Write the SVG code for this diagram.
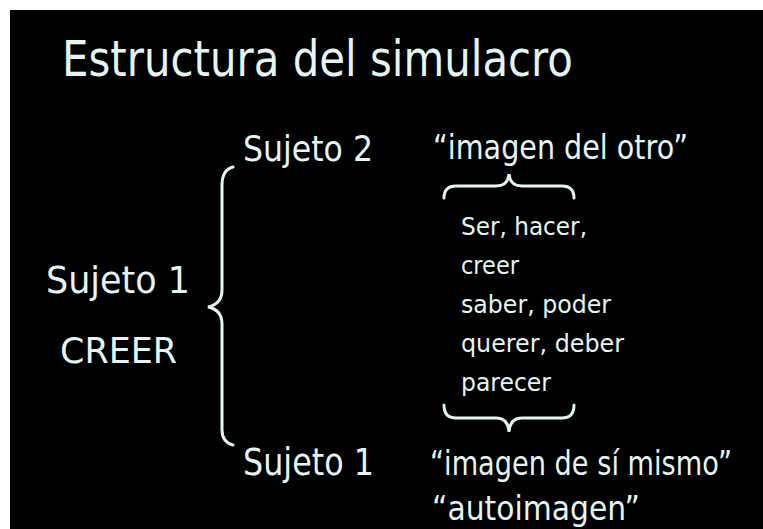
<svg xmlns="http://www.w3.org/2000/svg" width="763" height="529" viewBox="0 0 763 529">
<style>
text{font-family:"DejaVu Sans","Liberation Sans",sans-serif;fill:#e4f6f4}
.br{fill:none;stroke:#e4f6f4;stroke-width:3;stroke-linecap:round}
</style>
<rect width="763" height="529" fill="#ffffff"/>
<rect x="10" y="10" width="753" height="519" fill="#000000"/>
<g id="title"><text x="62" y="76" font-size="49" textLength="511" lengthAdjust="spacingAndGlyphs">Estructura del simulacro</text></g>
<g id="sujeto1-left">
<text x="46" y="293" font-size="38" textLength="144" lengthAdjust="spacingAndGlyphs">Sujeto 1</text>
<text x="60" y="363" font-size="36" textLength="117" lengthAdjust="spacingAndGlyphs">CREER</text>
</g>
<g id="sujeto2"><text x="243" y="161" font-size="36" textLength="130" lengthAdjust="spacingAndGlyphs">Sujeto 2</text></g>
<g id="imagen-otro"><text x="433" y="159" font-size="34" textLength="255" lengthAdjust="spacingAndGlyphs">“imagen del otro”</text></g>
<g id="lista">
<text x="461" y="235" font-size="24" textLength="126" lengthAdjust="spacingAndGlyphs">Ser, hacer,</text>
<text x="461" y="274" font-size="24" textLength="58" lengthAdjust="spacingAndGlyphs">creer</text>
<text x="461" y="313" font-size="24" textLength="150" lengthAdjust="spacingAndGlyphs">saber, poder</text>
<text x="461" y="352" font-size="24" textLength="163" lengthAdjust="spacingAndGlyphs">querer, deber</text>
<text x="461" y="391" font-size="24" textLength="90" lengthAdjust="spacingAndGlyphs">parecer</text>
</g>
<g id="sujeto1-bottom"><text x="243" y="475" font-size="37" textLength="131" lengthAdjust="spacingAndGlyphs">Sujeto 1</text></g>
<g id="imagen-si"><text transform="translate(430,475) scale(1,1.17)" x="0" y="0" font-size="29" textLength="302" lengthAdjust="spacingAndGlyphs">“imagen de sí mismo”</text></g>
<g id="autoimagen"><text x="432" y="520" font-size="34" textLength="208" lengthAdjust="spacingAndGlyphs">“autoimagen”</text></g>
<g id="connectors">
<path class="br" d="M233,167 Q222,170 222,185 L222,290 Q222,304 208,307 Q222,310 222,324 L222,430 Q222,442 233,445"/>
<path class="br" d="M444,198 Q444,186 456,186 L496,186 Q508,186 509,174 Q510,186 522,186 L562,186 Q574,186 574,198"/>
<path class="br" d="M444,405 Q444,418 456,418 L496,418 Q508,418 509,432 Q510,418 522,418 L562,418 Q574,418 574,405"/>
</g>
</svg>
